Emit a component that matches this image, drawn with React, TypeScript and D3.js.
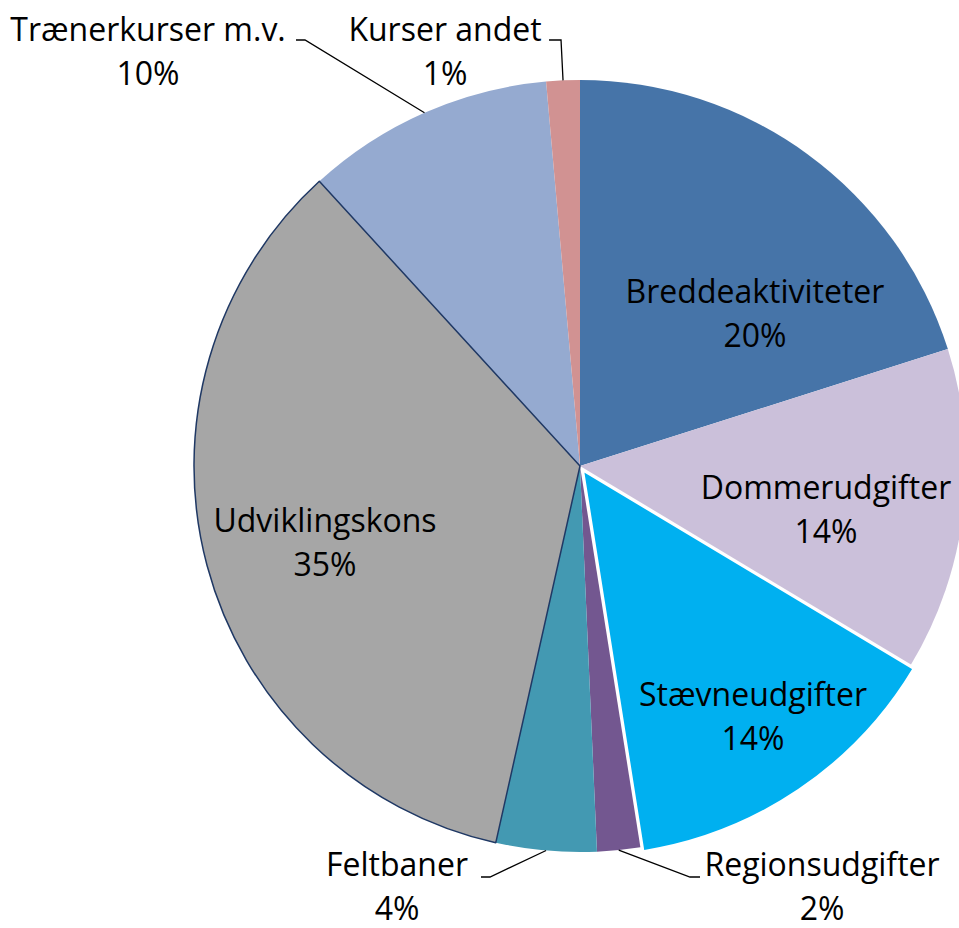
import * as d3 from "d3";

const categories = [
  "Breddeaktiviteter",
  "Dommerudgifter",
  "Stævneudgifter",
  "Regionsudgifter",
  "Feltbaner",
  "Udviklingskons",
  "Trænerkurser m.v.",
  "Kurser andet",
];
const shares = [20.1, 13.5, 13.9, 1.8, 4.2, 34.7, 10.4, 1.4];
const colors = [
  "#4674a8",
  "#cbc0da",
  "#00b0f0",
  "#735790",
  "#4399b2",
  "#a6a6a6",
  "#95aad0",
  "#d19292",
];

type Slice = { name: string; value: number; color: string };
const data: Slice[] = categories.map((name, i) => ({ name, value: shares[i], color: colors[i] }));

const width = 959;
const height = 928;
const cx = 580;
const cy = 466;
const radius = 386;
const lineGap = 44;
const fontSize = 32;

// label block centres (dx, dy from pie centre); outer labels get a leader
const labelAt: Record<string, { dx: number; dy: number; leader?: "left" | "right" | "up" }> = {
  Breddeaktiviteter: { dx: 175, dy: -154 },
  Dommerudgifter: { dx: 246, dy: 42 },
  "Stævneudgifter": { dx: 173, dy: 249 },
  Udviklingskons: { dx: -255, dy: 75 },
  Feltbaner: { dx: -183, dy: 419, leader: "left" },
  Regionsudgifter: { dx: 242, dy: 419, leader: "right" },
  "Trænerkurser m.v.": { dx: -432, dy: -416, leader: "left" },
  "Kurser andet": { dx: -135, dy: -416, leader: "up" },
};

export default function App() {
  const pie = d3
    .pie<Slice>()
    .sort(null)
    .value((d) => d.value);
  const arcs = pie(data);
  const arc = d3.arc<d3.PieArcDatum<Slice>>().innerRadius(0).outerRadius(radius);

  const order = [...arcs].sort((a, b) => {
    const rank = (s: string) => (s === "Stævneudgifter" ? 2 : s === "Udviklingskons" ? 1 : 0);
    return rank(a.data.name) - rank(b.data.name);
  });

  const font = "'Open Sans', Lato, sans-serif";

  return (
    <svg
      width={width}
      height={height}
      style={{ position: "absolute", left: 0, top: 0 }}
      fontFamily={font}
    >
      <rect width={width} height={height} fill="#fff" />
      <g transform={`translate(${cx},${cy})`}>
        {order.map((a) => {
          const mid = (a.startAngle + a.endAngle) / 2;
          const isStaevne = a.data.name === "Stævneudgifter";
          const off = isStaevne ? 5 : 0;
          const tx = Math.sin(mid) * off;
          const ty = -Math.cos(mid) * off;
          let stroke = "none";
          let sw = 0;
          if (isStaevne) {
            stroke = "#ffffff";
            sw = 2.5;
          } else if (a.data.name === "Udviklingskons") {
            stroke = "#1f3864";
            sw = 1.5;
          }
          return (
            <path
              key={a.data.name}
              d={arc(a) || ""}
              fill={a.data.color}
              stroke={stroke}
              strokeWidth={sw}
              strokeLinejoin="round"
              transform={`translate(${tx},${ty})`}
            />
          );
        })}

        {arcs.map((a) => {
          const spot = labelAt[a.data.name];
          const mid = (a.startAngle + a.endAngle) / 2;
          const pct = `${Math.round(a.data.value)}%`;
          const y1 = spot.dy - lineGap / 2;
          const y2 = spot.dy + lineGap / 2;
          const halfW = a.data.name.length * 8;
          let leader = null;
          if (spot.leader) {
            const px = Math.sin(mid) * radius;
            const py = -Math.cos(mid) * radius;
            const ly = -416 - lineGap / 2 + 12 === y1 + 12 ? y1 + 12 : y1 + 14;
            let pts: [number, number][] = [];
            if (spot.leader === "left") {
              const textEnd = spot.dx + halfW + 12;
              pts = [
                [textEnd, ly],
                [textEnd + 9, ly],
                [px, py],
              ];
            } else if (spot.leader === "right") {
              const textStart = spot.dx - halfW - 2;
              pts = [
                [textStart, ly],
                [textStart - 10, ly],
                [px, py],
              ];
            } else {
              pts = [
                [px - 14, ly],
                [px - 2, ly],
                [px, py],
              ];
            }
            leader = (
              <path
                d={d3.line()(pts) || ""}
                fill="none"
                stroke="#000"
                strokeWidth={1.3}
              />
            );
          }
          return (
            <g key={a.data.name}>
              {leader}
              <text
                x={spot.dx}
                y={y1}
                textAnchor="middle"
                dominantBaseline="central"
                fontSize={fontSize}
                fill="#000"
              >
                {a.data.name}
              </text>
              <text
                x={spot.dx}
                y={y2}
                textAnchor="middle"
                dominantBaseline="central"
                fontSize={fontSize}
                fill="#000"
              >
                {pct}
              </text>
            </g>
          );
        })}
      </g>
    </svg>
  );
}
